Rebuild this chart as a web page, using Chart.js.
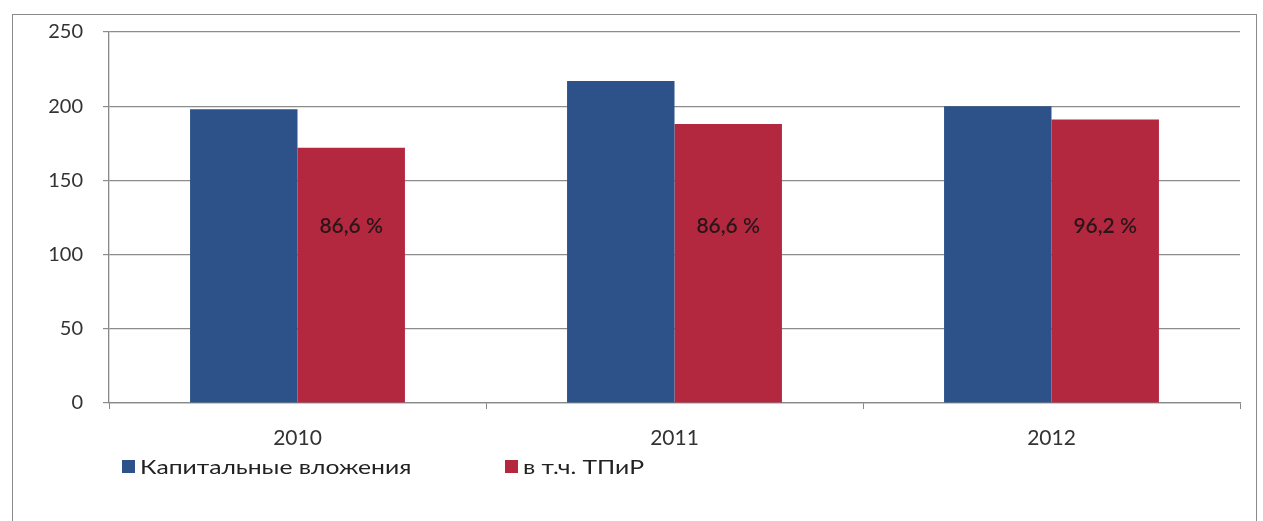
<!DOCTYPE html>
<html><head><meta charset="utf-8">
<script src="https://cdn.jsdelivr.net/npm/chart.js@4"></script>
<style>
html,body{margin:0;padding:0;background:#fff;}
#wrap{position:relative;width:1263px;height:521px;overflow:hidden;}
#frame{position:absolute;left:12px;top:14px;width:1245px;height:520px;border:1.5px solid #8a8a8a;box-sizing:border-box;}
canvas{position:absolute;left:0;top:0;}
#legend{position:absolute;top:455px;left:122px;font-family:Lato,"Liberation Sans",sans-serif;font-size:19px;color:#222;}
.item{position:absolute;white-space:nowrap;display:flex;align-items:center;}
.box{display:inline-block;width:13px;height:13px;margin-right:5px;}
.txt{display:inline-block;transform:scaleX(1.3);transform-origin:left center;}
</style></head>
<body><div id="wrap"><div id="frame"></div><canvas id="c" width="1263" height="521"></canvas><div id="legend"></div></div>
<script>
const categories = ["2010", "2011", "2012"];
const capital = [198, 217, 200];
const tpir = [172, 188, 191];
const shareLabels = ["86,6 %", "86,6 %", "96,2 %"];
const seriesNames = ["Капитальные вложения", "в т.ч. ТПиР"];
const yTicks = [0, 50, 100, 150, 200, 250];
const colors = ["#2d5289", "#b3283f"];

const labelPlugin = {
  id: 'shareLabels',
  afterDatasetsDraw(chart) {
    const ctx = chart.ctx;
    const meta = chart.getDatasetMeta(1);
    const y = chart.scales.y.getPixelForValue(119);
    ctx.save();
    ctx.font = '600 21px Lato, "Liberation Sans", sans-serif';
    ctx.fillStyle = '#2a1518';
    ctx.textAlign = 'center';
    ctx.textBaseline = 'middle';
    meta.data.forEach((bar, i) => { ctx.fillText(shareLabels[i], bar.x, y); });
    ctx.restore();
  }
};

new Chart(document.getElementById('c'), {
  type: 'bar',
  data: {
    labels: categories,
    datasets: [
      {label: seriesNames[0], data: capital, backgroundColor: colors[0]},
      {label: seriesNames[1], data: tpir, backgroundColor: colors[1]}
    ]
  },
  options: {
    responsive: false,
    animation: false,
    devicePixelRatio: 1,
    layout: {padding: {left: 12, right: 23, top: 29, bottom: 0}},
    plugins: {legend: {display: false}, tooltip: {enabled: false}},
    datasets: {bar: {categoryPercentage: 0.57, barPercentage: 1.0}},
    scales: {
      x: {
        grid: {display: true, drawOnChartArea: false, drawTicks: true, offset: true, tickLength: 6, color: '#888'},
        border: {display: true, color: '#888', width: 1.3},
        ticks: {color: '#333', font: {family: 'Lato, "Liberation Sans", sans-serif', size: 21}, padding: 17},
        afterFit(s) { s.height = 118; }
      },
      y: {
        min: 0, max: 250,
        afterBuildTicks(s) { s.ticks = yTicks.map(v => ({value: v})); },
        grid: {color: '#8c8c8c', lineWidth: 1.2, tickLength: 6},
        border: {display: true, color: '#888', width: 1.3},
        ticks: {color: '#333', font: {family: 'Lato, "Liberation Sans", sans-serif', size: 20}, padding: 20},
        afterFit(s) { s.width = 97; }
      }
    }
  },
  plugins: [labelPlugin]
});

const lg = document.getElementById('legend');
const lefts = [0, 383];
seriesNames.forEach((n, i) => {
  const d = document.createElement('div');
  d.className = 'item';
  d.style.left = lefts[i] + 'px';
  d.innerHTML = '<span class="box" style="background:' + colors[i] + '"></span><span class="txt"></span>';
  d.lastChild.textContent = n;
  lg.appendChild(d);
});
</script></body></html>
